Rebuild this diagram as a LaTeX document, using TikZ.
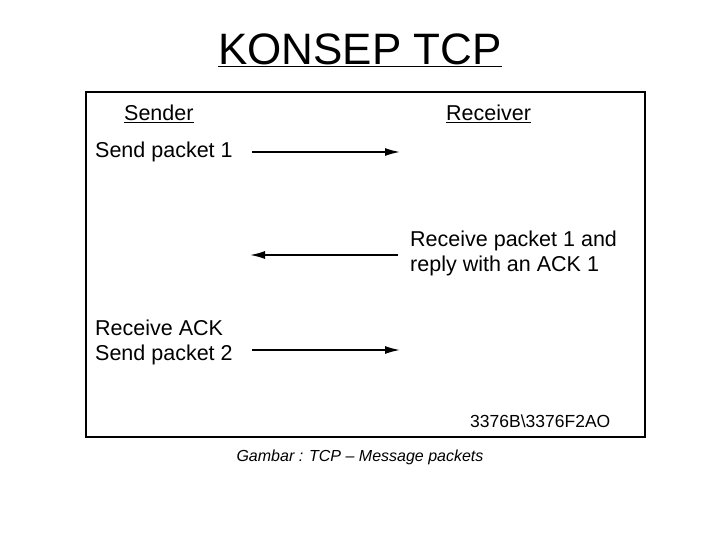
\documentclass[tikz,border=0pt]{standalone}
\usepackage{fontspec}
\setmainfont{Liberation Sans}
\usetikzlibrary{arrows.meta}
\begin{document}
\begin{tikzpicture}[x=1pt,y=-1pt,
  lbl/.style={font=\fontsize{21.5}{25}\selectfont,inner sep=0pt,align=left,anchor=west},
  msg/.style={line width=1.6pt,-{Latex[length=15pt,width=8pt]}}]
\useasboundingbox (0,0) rectangle (720,540);
\node[font=\fontsize{44}{50}\selectfont,inner sep=0pt] (title) at (360,50) {\underline{KONSEP TCP}};
\draw[line width=2pt] (86,92) rectangle (645,437);
\node[lbl] (snd) at (124,114) {\underline{Sender}};
\node[lbl] (rcv) at (446,114) {\underline{Receiver}};
\node[lbl] (t1) at (95,152) {Send packet 1};
\node[lbl] (t2) at (410,253) {Receive packet 1 and\\reply with an ACK 1};
\node[lbl] (t3) at (95,342) {Receive ACK\\Send packet 2};
\coordinate (a1) at (252,152); \coordinate (b1) at (400,152);
\coordinate (a2) at (398,255); \coordinate (b2) at (250,255);
\coordinate (a3) at (252,350); \coordinate (b3) at (400,350);
\draw[msg] (a1) -- (b1);
\draw[msg] (a2) -- (b2);
\draw[msg] (a3) -- (b3);
\node[lbl,font=\fontsize{17.5}{20}\selectfont] (code) at (470,421) {3376B\textbackslash3376F2AO};
\node[font=\itshape\fontsize{16}{18}\selectfont,inner sep=0pt] (cap) at (360,457) {Gambar : TCP – Message packets};
\end{tikzpicture}
\end{document}
